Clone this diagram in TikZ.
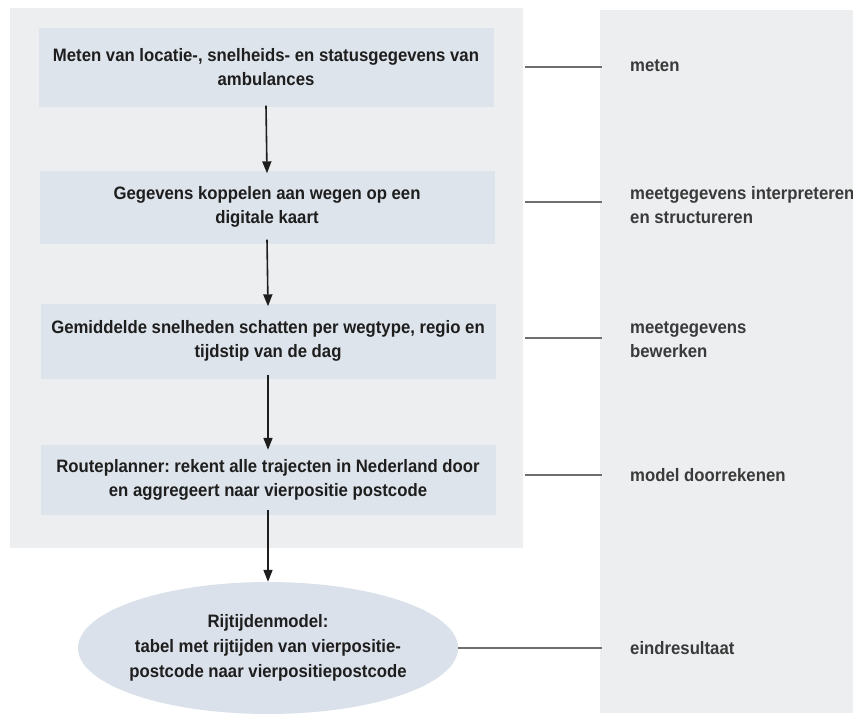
\documentclass[tikz,border=0pt]{standalone}
\usepackage{fontspec}
\setmainfont{Liberation Sans}
\newfontfamily\narrowsans{Liberation Sans}[FakeStretch=0.93]
\usetikzlibrary{arrows.meta,shapes.geometric}
\definecolor{panel}{HTML}{EDEEF0}
\definecolor{boxblue}{HTML}{DEE4EC}
\definecolor{ellblue}{HTML}{DBE1EA}
\definecolor{ink}{HTML}{1E1E1E}
\definecolor{labink}{HTML}{3A3A3A}
\definecolor{rulecol}{HTML}{6E6E6E}
\frenchspacing
\begin{document}
\begin{tikzpicture}[x=1pt,y=-1pt,
  stepbox/.style={fill=boxblue, minimum width=455pt, minimum height=76pt,
    align=center, inner sep=0pt, text=ink,
    font=\narrowsans\bfseries\fontsize{18}{24}\selectfont},
  endshape/.style={ellipse, fill=ellblue, minimum width=380pt, minimum height=132pt,
    align=center, inner xsep=-6pt, inner ysep=0pt, text=ink,
    font=\narrowsans\bfseries\fontsize{18}{25}\selectfont},
  flow/.style={-{Triangle[width=9pt,length=12pt]}, line width=1.6pt, draw=ink},
  tick/.style={draw=rulecol, line width=1.1pt},
  sidelabel/.style={anchor=west, align=left, inner sep=0pt, text=labink,
    font=\narrowsans\bfseries\fontsize{18}{24}\selectfont}]
\useasboundingbox (0,0) rectangle (853,713);
\fill[white] (0,0) rectangle (853,713);
% panels
\fill[panel] (10,8) rectangle (523,548);
\fill[panel] (600,10) rectangle (853,713);
% steps
\node[stepbox, minimum height=79pt] (b1) at (266,67)
  {Meten van locatie-, snelheids- en statusgegevens van\\ambulances};
\node[stepbox, minimum height=73pt] (b2) at (267,207)
  {Gegevens koppelen aan wegen op een\\digitale kaart};
\node[stepbox, minimum height=75pt] (b3) at (268,341)
  {Gemiddelde snelheden schatten per wegtype, regio en\\tijdstip van de dag};
\node[stepbox, minimum height=70pt] (b4) at (268,480)
  {Routeplanner: rekent alle trajecten in Nederland door\\en aggregeert naar vierpositie postcode};
\node[endshape] (e5) at (268,648)
  {Rijtijdenmodel:\\tabel met rijtijden van vierpositie-\\postcode naar vierpositiepostcode};
% arrows
\draw[flow] ([yshift=1pt]b1.south) -- ([yshift=-3pt]b2.north);
\draw[flow] ([yshift=4pt]b2.south) -- ([yshift=-3pt]b3.north);
\draw[flow] ([yshift=4pt]b3.south) -- ([yshift=-5pt]b4.north);
\draw[flow] ([yshift=5pt]b4.south) -- (e5.north);
% side labels
\node[sidelabel] (m1) at (630,66) {meten};
\node[sidelabel] (m2) at (630,205) {meetgegevens interpreteren\\en structureren};
\node[sidelabel] (m3) at (630,340) {meetgegevens\\bewerken};
\node[sidelabel] (m4) at (630,475) {model doorrekenen};
\node[sidelabel] (m5) at (630,648) {eindresultaat};
% ticks
\coordinate (s1) at (525,67);
\coordinate (s2) at (525,202);
\coordinate (s3) at (525,338);
\coordinate (s4) at (525,475);
\coordinate (t1) at (602,67);
\coordinate (t2) at (602,202);
\coordinate (t3) at (602,338);
\coordinate (t4) at (602,475);
\coordinate (t5) at (602,648);
\draw[tick] (s1) -- (t1);
\draw[tick] (s2) -- (t2);
\draw[tick] (s3) -- (t3);
\draw[tick] (s4) -- (t4);
\draw[tick] (e5.east) -- (t5);
\end{tikzpicture}
\end{document}
